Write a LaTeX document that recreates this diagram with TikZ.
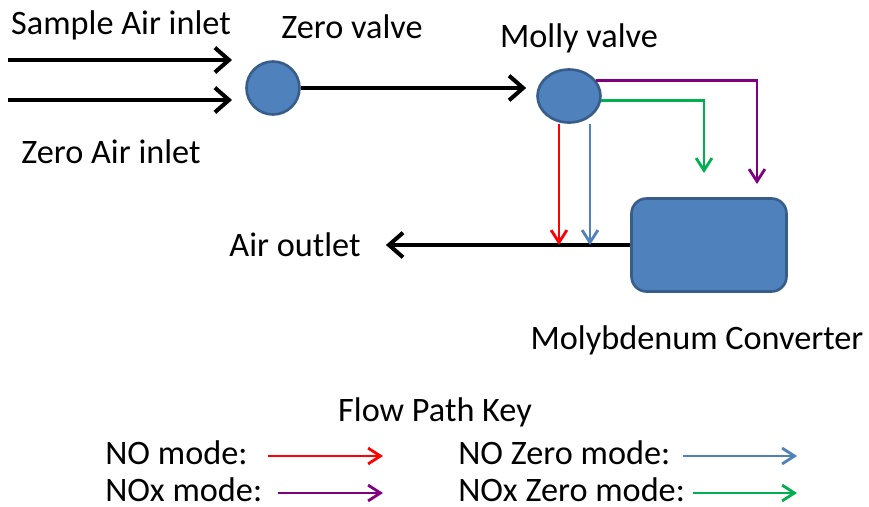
\documentclass[tikz,border=0pt]{standalone}
\usepackage{fontspec}
\setmainfont{Carlito}
\usepackage{tikz}
\usetikzlibrary{arrows.meta}
\usetikzlibrary{shapes.geometric}
\usetikzlibrary{positioning, calc}
\definecolor{valveblue}{RGB}{79,129,189}
\definecolor{valveedge}{RGB}{56,93,138}
\definecolor{nored}{RGB}{255,0,0}
\definecolor{noxpurple}{RGB}{128,0,128}
\definecolor{zerogreen}{RGB}{0,176,80}
\tikzset{
    valve/.style={fill=valveblue, draw=valveedge, line width=1.5pt, inner sep=0pt},
    lbl/.style={font=\fontsize{19.5}{22}\selectfont, inner sep=0pt},
    flow/.style={line width=2.3pt, -{Straight Barb[length=8pt,width=14pt]}},
    mode/.style={line width=1.6pt, -{Straight Barb[length=7pt,width=9pt]}}
}

\begin{document}
\begin{tikzpicture}[x=0.02cm, y=-0.02cm]
    \useasboundingbox (0,0) rectangle (869,507);

    % valves and converter
    \node[valve, circle, minimum size=1.06cm] (zero) at (273,88) {};
    \node[valve, ellipse, minimum width=1.26cm, minimum height=1.06cm] (molly) at (569,96) {};
    \node[valve, rectangle, rounded corners=0.3cm, minimum width=3.1cm,
        minimum height=1.86cm] (conv) at (709,245) {};

    % labels
    \node[lbl] (sample) at (121,25) {Sample Air inlet};
    \node[lbl] (zeroair) at (111,152) {Zero Air inlet};
    \node[lbl] (zerolbl) at (352,27) {Zero valve};
    \node[lbl] (mollylbl) at (579,38) {Molly valve};
    \node[lbl] (outlet) at (295,245) {Air outlet};
    \node[lbl] (convlbl) at (697,340) {Molybdenum Converter};
    \node[lbl] (key) at (435,412) {Flow Path Key};

    % inlets
    \foreach \m/\y in {sample/60, zeroair/100} {
        \coordinate (\m-start) at (8,\y);
        \coordinate (\m-end) at (232,\y);
        \draw[flow] (\m-start) -- (\m-end);
    }

    % black flow
    \draw[flow, shorten >=0.2cm] (zero.east) -- (zero.east -| molly.west);
    \draw[flow, shorten >=0.5cm] (conv.west) -- (outlet.east);

    % mode paths
    \coordinate (purple-end) at (757,184);
    \coordinate (green-end) at (704,173);
    \draw[mode, noxpurple] (molly.30) -| (purple-end);
    \draw[mode, zerogreen] (molly.-8) -| (green-end);
    \draw[mode, nored] ([xshift=-0.2cm]molly.south) -- ([xshift=-0.2cm]molly.south |- conv.west);
    \draw[mode, valveblue] ([xshift=0.42cm]molly.south) -- ([xshift=0.42cm]molly.south |- conv.west);

    % flow path key
    \foreach \m/\x/\y/\a/\b/\c/\t in {
        no/105/453/268/383/nored/{NO mode:},
        nox/105/490/278/383/noxpurple/{NOx mode:},
        nozero/458/453/683/797/valveblue/{NO Zero mode:},
        noxzero/458/490/693/797/zerogreen/{NOx Zero mode:}}
    {
        \node[lbl, anchor=west] (\m) at (\x,\y) {\t};
        \coordinate (\m-start) at (\a,\y+3);
        \coordinate (\m-end) at (\b,\y+3);
        \draw[mode, \c] (\m-start) -- (\m-end);
    }
\end{tikzpicture}
\end{document}
